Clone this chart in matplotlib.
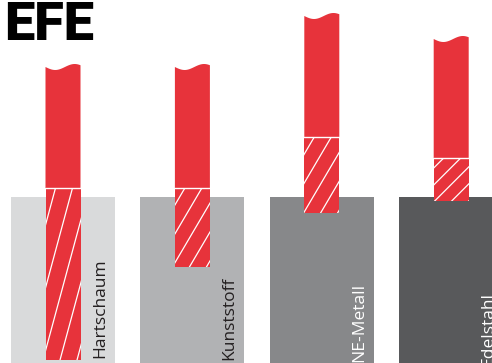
import numpy as np
import matplotlib
matplotlib.use("Agg")
import matplotlib.pyplot as plt
from matplotlib.patches import Rectangle, Polygon

# materials and drill depth schematic (units: px from the bottom)
materials = ['Hartschaum', 'Kunststoff', 'NE-Metall', 'Edelstahl']
drill_top = [296, 296, 347, 324]
hatch_top = [175, 175, 226, 205]
drill_bottom = [3, 96, 150, 162]
thread_slope = [3.7, 1.7, 1.7, 1.0]
block_colors = ['#d9dadb', '#b1b2b4', '#87888a', '#58595b']
label_colors = ['#231f20', '#231f20', '#ffffff', '#ffffff']
label_bottom = [5, 3, 1, -3]

RED = '#e7333b'
W, H = 492, 363
block_top = 166
block_w = 104
bar_w = 35
step = 129.4
first_center = 63

fig = plt.figure(figsize=(W / 100, H / 100), dpi=100)
ax = fig.add_axes([0, 0, 1, 1])
ax.set_xlim(0, W)
ax.set_ylim(0, H)
ax.axis('off')

for i, name in enumerate(materials):
    cx = first_center + i * step
    # material block
    ax.add_patch(Rectangle((cx - block_w / 2, 0), block_w, block_top,
                           facecolor=block_colors[i], edgecolor='none', zorder=1))

    # drill shank with wavy top
    left = cx - bar_w / 2
    t = np.linspace(0, 1, 40)
    wave_x = left + t * bar_w
    wave_y = drill_top[i] - 3 * np.sin(2 * np.pi * 0.9 * t)
    pts = [(left, hatch_top[i])] + list(zip(wave_x, wave_y)) + [(left + bar_w, hatch_top[i])]
    ax.add_patch(Polygon(pts, closed=True, facecolor=RED, edgecolor='none', zorder=2))

    # fluted part, white helix lines clipped to it
    flute = Rectangle((left, drill_bottom[i]), bar_w, hatch_top[i] - drill_bottom[i],
                      facecolor=RED, edgecolor='none', zorder=2)
    ax.add_patch(flute)
    s = thread_slope[i]
    gap = 17
    for k in range(-40, 10):
        x0 = left + 10 + k * gap
        ys = np.array([hatch_top[i], hatch_top[i] - 400])
        xs = np.array([x0, x0 - 400 / s])
        ln, = ax.plot(xs, ys, color='white', lw=0.9, zorder=3)
        ln.set_clip_path(flute)
    ax.plot([left, left + bar_w], [hatch_top[i], hatch_top[i]], color='white', lw=1, zorder=3)

    # label
    ax.text(cx + block_w / 2 - 15, label_bottom[i], name, rotation=90,
            ha='center', va='bottom', fontsize=12.5, family='Open Sans',
            color=label_colors[i], zorder=4)

fig.text(4 / W, 1.0, 'EFE', ha='left', va='top', fontsize=39,
         family=['Roboto', 'DejaVu Sans'], fontweight='black', color='black')

fig.savefig('out.png', dpi=100)
